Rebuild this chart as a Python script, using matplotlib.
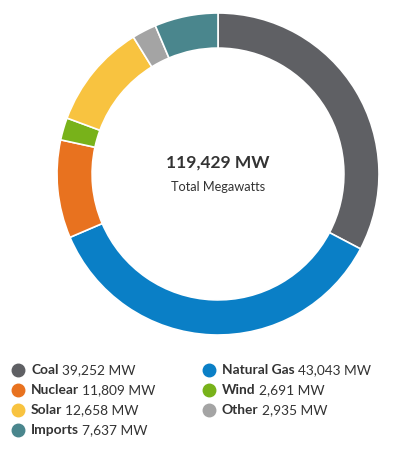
import matplotlib
matplotlib.use("Agg")
import matplotlib.pyplot as plt
from matplotlib.lines import Line2D

plt.rcParams['font.family'] = ['Lato', 'DejaVu Sans']

# Data (clockwise from top)
categories = ["Coal", "Natural Gas", "Nuclear", "Wind", "Solar", "Other", "Imports"]
values = [39252, 43043, 11809, 2691, 12658, 2935, 7637]
colors = ["#5f6064", "#0a7fc6", "#e8721f", "#78b21a", "#f8c340", "#a4a4a4", "#4a868d"]
total_label = "119,429 MW"
subtitle = "Total Megawatts"

# Legend order (two columns)
legend_order = ["Coal", "Natural Gas", "Nuclear", "Wind", "Solar", "Other", "Imports"]

W, H = 399, 454
fig = plt.figure(figsize=(W / 100, H / 100), dpi=100)

cx, cy, R = 218, 174, 161
ax = fig.add_axes([(cx - R) / W, (H - (cy + R)) / H, 2 * R / W, 2 * R / H])
ax.pie(values, colors=colors, startangle=90, counterclock=False, radius=1.0,
       wedgeprops=dict(width=0.218, edgecolor="white", linewidth=1.2))
ax.set_xlim(-1, 1)
ax.set_ylim(-1, 1)
ax.set_aspect("equal")
ax.axis("off")

ax.text(0, 0.07, total_label, ha="center", va="center", fontsize=12.5,
        fontweight="bold", color="#333333")
ax.text(0, -0.08, subtitle, ha="center", va="center", fontsize=9.2,
        color="#333333")

renderer = fig.canvas.get_renderer()
col_x = [18, 209]
row_y0, row_dy = 370, 20
for i, name in enumerate(legend_order):
    idx = categories.index(name)
    col = i % 2
    row = i // 2
    mx = col_x[col]
    my = row_y0 + row * row_dy
    fig.add_artist(Line2D([mx / W], [1 - my / H], marker="o", markersize=9,
                          color=colors[idx], linestyle="none",
                          transform=fig.transFigure))
    t = fig.text((mx + 13) / W, 1 - my / H, name, ha="left", va="center",
                 fontsize=9.9, fontweight="bold", color="#333333")
    bb = t.get_window_extent(renderer=renderer)
    fig.text((bb.x1 + 3) / W, 1 - my / H, f"{values[idx]:,} MW", ha="left",
             va="center", fontsize=9.9, color="#333333")

fig.savefig("out.png", dpi=100, facecolor="white")
